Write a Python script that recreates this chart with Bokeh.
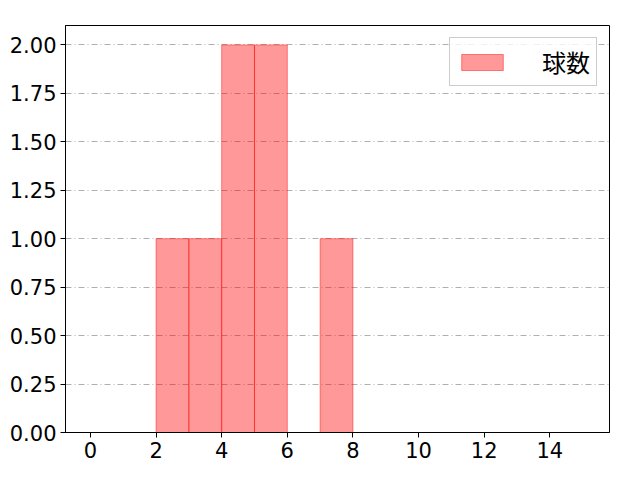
from bokeh.plotting import figure
from bokeh.models import FixedTicker, PrintfTickFormatter, Legend, LegendItem, Range1d
from bokeh.embed import file_html
from bokeh.resources import INLINE

# histogram bins (left/right edges) and counts
bin_left = [2, 3, 4, 5, 7]
bin_right = [3, 4, 5, 6, 8]
counts = [1, 1, 2, 2, 1]
series_name = "球数"

x_ticks = [0, 2, 4, 6, 8, 10, 12, 14]
y_ticks = [0, 0.25, 0.5, 0.75, 1.0, 1.25, 1.5, 1.75, 2.0]

TICK_FONT = "DejaVu Sans"
CJK_FONT = "Noto Sans CJK JP"

p = figure(
    width=632,
    height=472,
    frame_width=544,
    frame_height=407,
    x_range=Range1d(-0.76, 15.82),
    y_range=Range1d(0, 2.1),
    output_backend="svg",
    toolbar_location=None,
    tools="",
    min_border_left=65,
    min_border_top=25,
    min_border_right=23,
    min_border_bottom=40,
)

bars = p.quad(
    left=bin_left,
    right=bin_right,
    bottom=0,
    top=counts,
    fill_color="red",
    fill_alpha=0.4,
    line_color="red",
    line_alpha=0.45,
    line_width=1,
)

# axes
p.xaxis.ticker = FixedTicker(ticks=x_ticks)
p.yaxis.ticker = FixedTicker(ticks=y_ticks)
p.yaxis.formatter = PrintfTickFormatter(format="%.2f")
for ax in (p.xaxis, p.yaxis):
    ax.major_label_text_font = TICK_FONT
    ax.major_label_text_font_size = "21px"
    ax.major_label_text_color = "black"
    ax.axis_line_color = "black"
    ax.major_tick_line_color = "black"
    ax.major_tick_out = 5
    ax.major_tick_in = 0
    ax.minor_tick_line_color = None
p.xaxis.major_label_standoff = 4
p.yaxis.major_label_standoff = 4

p.outline_line_color = "black"
p.outline_line_alpha = 1
p.xgrid.grid_line_color = None
p.ygrid.grid_line_color = "#b0b0b0"
p.ygrid.grid_line_dash = "6 3 1 3"
p.ygrid.grid_line_width = 1

legend = Legend(
    items=[LegendItem(label=series_name, renderers=[bars])],
    location="top_right",
    label_text_font=CJK_FONT,
    label_text_font_size="24px",
    label_text_color="black",
    glyph_width=52,
    glyph_height=20,
    label_standoff=34,
    border_line_color="#cccccc",
    border_line_alpha=1,
    background_fill_alpha=0.8,
    margin=12,
    padding=6,
    spacing=0,
)
p.add_layout(legend)

open("out.html", "w").write(file_html(p, INLINE))
